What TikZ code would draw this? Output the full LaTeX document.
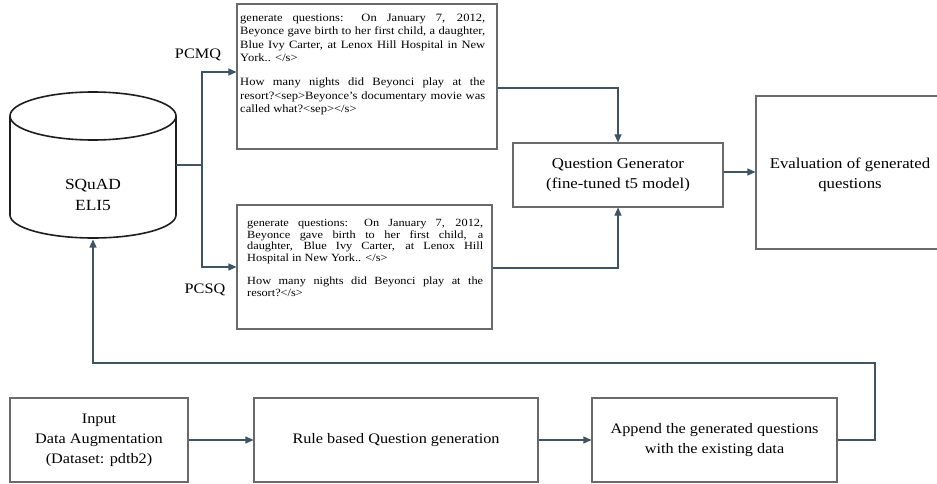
\documentclass[tikz,border=0pt]{standalone}
\usepackage{fontspec}
\setmainfont[FakeStretch=1.12]{Liberation Serif}
\usetikzlibrary{arrows.meta}
\definecolor{connc}{HTML}{3E5465}
\definecolor{bord}{HTML}{6A6A6A}
\definecolor{cylc}{HTML}{1E1E1E}
\begin{document}
\begin{tikzpicture}[x=1pt,y=-1pt,
  box/.style={draw=bord,line width=1.1pt,inner sep=0pt,align=center},
  bigtxt/.style={font=\fontsize{15}{20}\selectfont},
  lowtxt/.style={font=\fontsize{14.5}{20}\selectfont},
  conn/.style={draw=connc,line width=1.1pt},
  arr/.style={conn,-{Triangle[length=8pt,width=7pt]}},
  cyl/.style={draw=cylc,line width=1.6pt},
  lbl/.style={font=\fontsize{14.5}{16}\selectfont,inner sep=0pt}]
\clip (0,0) rectangle (937,484);
\fill[white] (0,0) rectangle (937,484);
% cylinder
\draw[cyl] (10,116) -- (10,215) arc[start angle=180,end angle=0,x radius=83,y radius=23] -- (176,116);
\draw[cyl] (93,116) ellipse [x radius=83, y radius=24];
\node[font=\fontsize{15.5}{21}\selectfont,align=center] (db) at (93,195) {SQuAD\\ELI5};
\coordinate (dbR) at (176,165);
\coordinate (dbB) at (93,239.5);
\coordinate (split) at (202,165);
% text boxes
\node[box,minimum width=260pt,minimum height=145pt] (box1) at (367,76.5) {};
\node[anchor=base west,inner sep=0pt] (box1t) at (240,21.5) {\parbox[t]{245pt}{\fontsize{11.2}{13.3}\selectfont\parindent=0pt
\makebox[245pt][s]{generate questions: On January 7, 2012,}\\
\makebox[245pt][s]{Beyonce gave birth to her first child, a daughter,}\\
\makebox[245pt][s]{Blue Ivy Carter, at Lenox Hill Hospital in New}\\
York.. </s>\\[11.1pt]
\makebox[245pt][s]{How many nights did Beyonci play at the}\\
\makebox[245pt][s]{resort?<sep>Beyonce's documentary movie was}\\
called what?<sep></s>}};
\node[box,minimum width=255pt,minimum height=124pt] (box2) at (364.5,267) {};
\node[anchor=base west,inner sep=0pt] (box2t) at (247,226.3) {\parbox[t]{236pt}{\fontsize{11}{11.7}\selectfont\parindent=0pt
\makebox[236pt][s]{generate questions: On January 7, 2012,}\\
\makebox[236pt][s]{Beyonce gave birth to her first child, a}\\
\makebox[236pt][s]{daughter, Blue Ivy Carter, at Lenox Hill}\\
Hospital in New York.. </s>\\[11.7pt]
\makebox[236pt][s]{How many nights did Beyonci play at the}\\
resort?</s>}};
\node[lbl] (pcmq) at (198,54.5) {PCMQ};
\node[lbl] (pcsq) at (205,290) {PCSQ};
% generator and evaluation
\node[box,bigtxt,minimum width=210pt,minimum height=64pt] (qg) at (618,175) {Question Generator\\(fine-tuned t5 model)};
\node[box,minimum width=189pt,minimum height=153pt] (eval) at (850.5,172.5) {};
\node[bigtxt,align=center] (evalt) at (850,175) {Evaluation of generated\\questions};
% bottom row
\node[box,lowtxt,minimum width=178pt,minimum height=84pt] (inp) at (99,440) {Input\\Data Augmentation\\(Dataset: pdtb2)};
\node[box,lowtxt,minimum width=284pt,minimum height=84pt] (rule) at (396,440) {Rule based Question generation};
\node[box,lowtxt,minimum width=245pt,minimum height=84pt] (app) at (714.5,440) {Append the generated questions\\with the existing data};
\coordinate (fbR) at (875,363);
\coordinate (fbL) at (93,363);
% connectors
\draw[conn] (dbR) -- (split);
\draw[arr] (split) |- ([yshift=4.5pt]box1.west);
\draw[arr] (split) |- (box2.west);
\draw[arr] ([yshift=-11.5pt]box1.east) -| (qg.north);
\draw[arr] ([yshift=-1pt]box2.east) -| (qg.south);
\draw[arr] ([yshift=3pt]qg.east) -- ([yshift=3pt]qg.east -| eval.west);
\draw[arr] (inp.east) -- (rule.west);
\draw[arr] (rule.east) -- (app.west);
\draw[arr] (app.east) -| (fbR) -- (fbL) -- (dbB);
\end{tikzpicture}
\end{document}
